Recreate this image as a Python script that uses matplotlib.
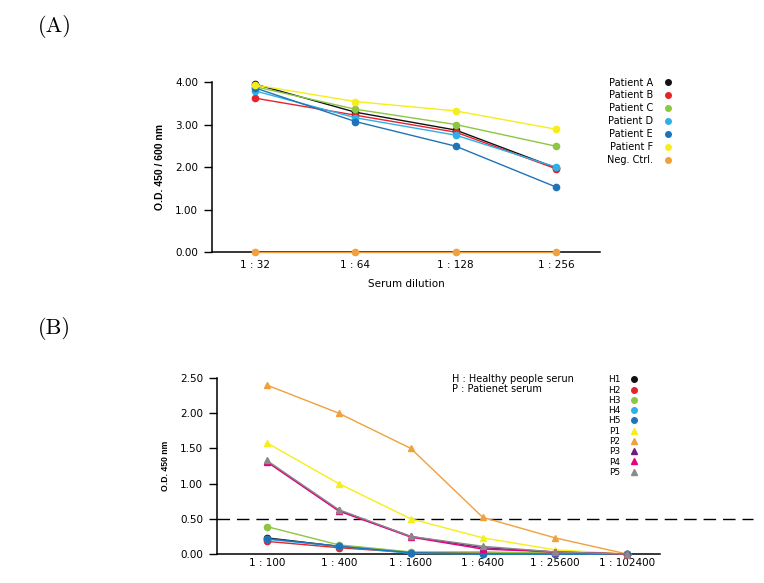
import matplotlib
matplotlib.use("Agg")
import matplotlib.pyplot as plt
from matplotlib.lines import Line2D

plt.rcParams['font.family'] = ['DejaVu Sans']

# Panel A data
dilutions_a = ['1 : 32', '1 : 64', '1 : 128', '1 : 256']
patient_names = ['Patient A', 'Patient B', 'Patient C', 'Patient D', 'Patient E', 'Patient F', 'Neg. Ctrl.']
patient_a = [3.95, 3.29, 2.87, 1.98]
patient_b = [3.62, 3.22, 2.82, 1.96]
patient_c = [3.89, 3.36, 3.00, 2.49]
patient_d = [3.79, 3.16, 2.75, 2.00]
patient_e = [3.86, 3.07, 2.49, 1.53]
patient_f = [3.93, 3.54, 3.32, 2.89]
neg_ctrl = [0.0, 0.0, 0.0, 0.0]
colors_a = ['#111111', '#e5232b', '#8dc641', '#2eb0e8', '#1f73b7', '#f5ee1a', '#f0a03c']

# Panel B data
dilutions_b = ['1 : 100', '1 : 400', '1 : 1600', '1 : 6400', '1 : 25600', '1 : 102400']
serum_names = ['H1', 'H2', 'H3', 'H4', 'H5', 'P1', 'P2', 'P3', 'P4', 'P5']
h1 = [0.23, 0.11, 0.02, 0.01, 0.01, 0.0]
h2 = [0.18, 0.09, 0.02, 0.01, 0.01, 0.0]
h3 = [0.39, 0.13, 0.03, 0.03, 0.01, 0.0]
h4 = [0.21, 0.11, 0.01, 0.0, 0.0, 0.0]
h5 = [0.22, 0.11, 0.02, 0.0, 0.0, 0.0]
p1 = [1.58, 1.00, 0.50, 0.23, 0.06, 0.0]
p2 = [2.40, 2.00, 1.50, 0.52, 0.23, 0.0]
p3 = [1.32, 0.62, 0.25, 0.09, 0.03, 0.0]
p4 = [1.31, 0.61, 0.24, 0.07, 0.03, 0.0]
p5 = [1.33, 0.63, 0.25, 0.11, 0.03, 0.0]
colors_b = ['#111111', '#e5232b', '#8dc641', '#2eb0e8', '#1f73b7',
            '#f5ee1a', '#f0a03c', '#6b1f7c', '#e6007e', '#8a8a8a']
cutoff = 0.5

fig = plt.figure(figsize=(7.64, 5.83), dpi=100)
narrow = ['Liberation Sans Narrow', 'Liberation Sans']


def style_axis(ax, ylabel, label_size, xpad):
    for side in ['top', 'right']:
        ax.spines[side].set_visible(False)
    for side in ['left', 'bottom']:
        ax.spines[side].set_linewidth(1.1)
    ax.tick_params(axis='x', length=0, labelsize=7.5, pad=xpad)
    ax.tick_params(axis='y', length=6, width=1, labelsize=7.5, pad=4)
    ax.yaxis.set_major_formatter(plt.FormatStrFormatter('%.2f'))
    ax.set_ylabel(ylabel, fontsize=label_size, fontweight='bold', labelpad=7,
                  family=narrow)


# ---- Panel A ----
ax1 = fig.add_axes([0.2775, 0.5677, 0.508, 0.2916])
series_a = [patient_a, patient_b, patient_c, patient_d, patient_e, patient_f, neg_ctrl]
xa = range(len(dilutions_a))
for vals, col in zip(series_a, colors_a):
    ax1.plot(xa, vals, color=col, lw=1, marker='o', ms=4.5, clip_on=False, zorder=3)
ax1.set_xticks(list(xa))
ax1.set_xticklabels(dilutions_a)
ax1.set_xlim(-0.43, 3.44)
ax1.set_ylim(0, 4)
ax1.set_yticks([0, 1, 2, 3, 4])
style_axis(ax1, 'O.D. 450 / 600 nm', 7.5, 6)
ax1.set_xlabel('Serum dilution', fontsize=7.5, labelpad=6)

handles_a = [Line2D([], [], ls='none', marker='o', ms=4, color=c) for c in colors_a]
fig.legend(handles_a, patient_names, loc='upper left', bbox_to_anchor=(0.783, 0.882),
           frameon=False, markerfirst=False, fontsize=7, labelspacing=0.3,
           handlelength=1, handletextpad=1.0)

# ---- Panel B ----
ax2 = fig.add_axes([0.284, 0.0497, 0.58, 0.302])
series_b = [h1, h2, h3, h4, h5, p1, p2, p3, p4, p5]
markers_b = ['o'] * 5 + ['^'] * 5
xb = range(len(dilutions_b))
for vals, col, mk in zip(series_b, colors_b, markers_b):
    ax2.plot(xb, vals, color=col, lw=1, marker=mk, ms=4.5, clip_on=False, zorder=3)
ax2.axhline(cutoff, xmin=0, xmax=1.21, color='black', lw=1, ls=(0, (9, 5)), clip_on=False)
ax2.set_xticks(list(xb))
ax2.set_xticklabels(dilutions_b)
ax2.set_xlim(-0.69, 5.46)
ax2.set_ylim(0, 2.5)
ax2.set_yticks([0, 0.5, 1.0, 1.5, 2.0, 2.5])
style_axis(ax2, 'O.D. 450 nm', 6.2, 3)

fig.text(0.592, 0.358, 'H : Healthy people serun\nP : Patienet serum', fontsize=7,
         va='top', linespacing=0.95)

handles_b = [Line2D([], [], ls='none', marker=m, ms=4, color=c)
             for m, c in zip(markers_b, colors_b)]
fig.legend(handles_b, serum_names, loc='upper left', bbox_to_anchor=(0.785, 0.37),
           frameon=False, markerfirst=False, fontsize=6.5, labelspacing=0.14,
           handlelength=1, handletextpad=1.0)

# panel labels
fig.text(0.05, 0.955, '(A)', fontsize=16, family='cmr10', va='center')
fig.text(0.05, 0.437, '(B)', fontsize=16, family='cmr10', va='center')

fig.savefig('out.png', dpi=100)
